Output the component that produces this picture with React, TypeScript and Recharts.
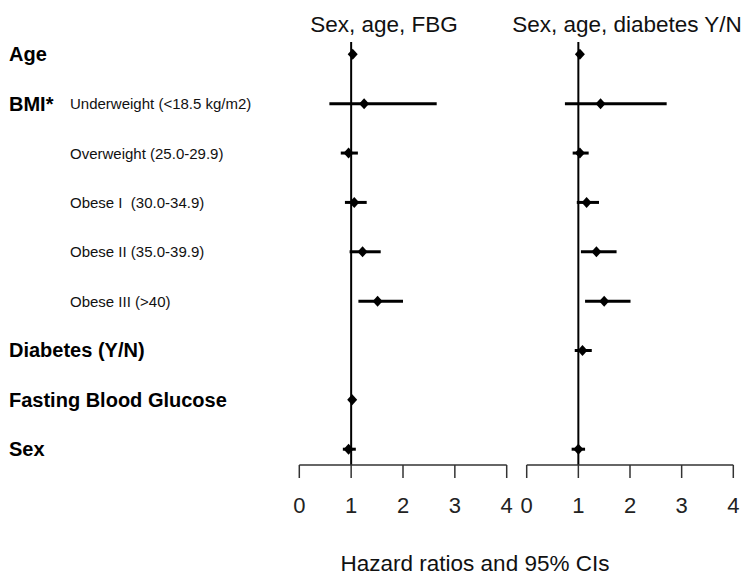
import React from "react";
import {
  ScatterChart,
  Scatter,
  XAxis,
  YAxis,
  ErrorBar,
  ReferenceLine,
} from "recharts";

// row labels, top to bottom
const rowGroups = [
  "Age",
  "BMI*",
  "",
  "",
  "",
  "",
  "Diabetes (Y/N)",
  "Fasting Blood Glucose",
  "Sex",
];
const rowSubs = [
  "",
  "Underweight (<18.5 kg/m2)",
  "Overweight (25.0-29.9)",
  "Obese I  (30.0-34.9)",
  "Obese II (35.0-39.9)",
  "Obese III (>40)",
  "",
  "",
  "",
];

const xTicks = [0, 1, 2, 3, 4];

// model 1: sex, age, FBG
const fbgHr = [1.03, 1.25, 0.95, 1.06, 1.22, 1.51, null, 1.02, 0.95];
const fbgLo = [1.02, 0.58, 0.8, 0.88, 0.97, 1.14, null, 1.0, 0.84];
const fbgHi = [1.04, 2.65, 1.13, 1.3, 1.57, 2.0, null, 1.04, 1.09];

// model 2: sex, age, diabetes Y/N
const diabHr = [1.03, 1.43, 1.03, 1.16, 1.35, 1.5, 1.08, null, 1.0];
const diabLo = [1.02, 0.74, 0.89, 0.97, 1.05, 1.13, 0.93, null, 0.87];
const diabHi = [1.04, 2.71, 1.2, 1.4, 1.74, 2.01, 1.26, null, 1.13];

type Point = { row: number; hr: number; err: [number, number] };

function buildRows(
  hr: (number | null)[],
  lo: (number | null)[],
  hi: (number | null)[]
): Point[] {
  const out: Point[] = [];
  hr.forEach((v, i) => {
    if (v == null) return;
    out.push({
      row: i,
      hr: v,
      err: [v - (lo[i] ?? v), (hi[i] ?? v) - v],
    });
  });
  return out;
}

const FONT = "'Liberation Sans', Arial, sans-serif";
const Y_DOMAIN: [number, number] = [-0.25, 8.32];
const rowTicks = rowGroups.map((_, i) => i);

const Diamond = (props: any) => {
  const { cx, cy } = props;
  if (cx == null || cy == null) return null;
  return (
    <polygon
      points={`${cx},${cy - 5.5} ${cx + 5},${cy} ${cx},${cy + 5.5} ${cx - 5},${cy}`}
      fill="#000"
    />
  );
};

const RowLabel = (props: any) => {
  const { y, payload } = props;
  const i = payload.value as number;
  return (
    <g>
      {rowGroups[i] && (
        <text
          x={9}
          y={y}
          dominantBaseline="central"
          fontSize={20}
          fontWeight="bold"
          fill="#000"
          fontFamily={FONT}
        >
          {rowGroups[i]}
        </text>
      )}
      {rowSubs[i] && (
        <text
          x={70}
          y={y}
          dominantBaseline="central"
          fontSize={15}
          fill="#111"
          fontFamily={FONT}
          style={{ whiteSpace: "pre" }}
        >
          {rowSubs[i]}
        </text>
      )}
    </g>
  );
};

interface PanelProps {
  data: Point[];
  width: number;
  yAxisWidth: number;
  marginLeft: number;
  marginRight: number;
  showLabels: boolean;
}

function ForestPanel({
  data,
  width,
  yAxisWidth,
  marginLeft,
  marginRight,
  showLabels,
}: PanelProps) {
  return (
    <ScatterChart
      width={width}
      height={585}
      margin={{ top: 42, right: marginRight, bottom: 60, left: marginLeft }}
      style={{ overflow: "visible" }}
    >
      <XAxis
        type="number"
        dataKey="hr"
        domain={[0, 4]}
        ticks={xTicks}
        allowDataOverflow
        height={60}
        tickSize={13}
        tickMargin={19}
        axisLine={{ stroke: "#333", strokeWidth: 1.5 }}
        tickLine={{ stroke: "#333", strokeWidth: 1.5 }}
        tick={{ fontSize: 22, fill: "#222", fontFamily: FONT }}
      />
      <YAxis
        type="number"
        dataKey="row"
        domain={Y_DOMAIN}
        ticks={rowTicks}
        allowDataOverflow
        reversed
        width={yAxisWidth}
        hide={!showLabels}
        axisLine={false}
        tickLine={false}
        tick={<RowLabel />}
        interval={0}
      />
      <ReferenceLine x={1} stroke="#000" strokeWidth={2} />
      <Scatter data={data} shape={<Diamond />} isAnimationActive={false}>
        <ErrorBar
          dataKey="err"
          direction="x"
          width={0}
          stroke="#000"
          strokeWidth={3}
          isAnimationActive={false}
        />
      </Scatter>
    </ScatterChart>
  );
}

const titleStyle: React.CSSProperties = {
  position: "absolute",
  width: 320,
  textAlign: "center",
  fontSize: 22.5,
  lineHeight: "22px",
  color: "#111",
  fontFamily: FONT,
  whiteSpace: "nowrap",
};

export default function App() {
  const left = buildRows(fbgHr, fbgLo, fbgHi);
  const right = buildRows(diabHr, diabLo, diabHi);
  return (
    <div
      style={{
        position: "absolute",
        left: 0,
        top: 0,
        width: 752,
        height: 585,
        background: "#fff",
        fontFamily: FONT,
      }}
    >
      <div style={{ ...titleStyle, left: 384 - 160, top: 14 }}>
        Sex, age, FBG
      </div>
      <div style={{ ...titleStyle, left: 627 - 160, top: 14 }}>
        Sex, age, diabetes Y/N
      </div>
      <div style={{ position: "absolute", left: 0, top: 0 }}>
        <ForestPanel
          data={left}
          width={514}
          yAxisWidth={299.3}
          marginLeft={0}
          marginRight={7.3}
          showLabels
        />
      </div>
      <div style={{ position: "absolute", left: 520, top: 0 }}>
        <ForestPanel
          data={right}
          width={232}
          yAxisWidth={0}
          marginLeft={6.7}
          marginRight={18.7}
          showLabels={false}
        />
      </div>
      <div style={{ ...titleStyle, left: 475 - 160, top: 553 }}>
        Hazard ratios and 95% CIs
      </div>
    </div>
  );
}
